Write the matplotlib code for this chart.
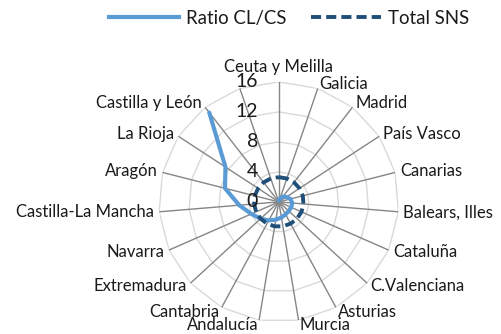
import numpy as np
import matplotlib
matplotlib.use("Agg")
import matplotlib.pyplot as plt
from matplotlib.lines import Line2D

plt.rcParams['font.family'] = ['Lato', 'DejaVu Sans']

categories = ["Ceuta y Melilla", "Galicia", "Madrid", "País Vasco", "Canarias",
              "Balears, Illes", "Cataluña", "C.Valenciana", "Asturias", "Murcia",
              "Andalucía", "Cantabria", "Extremadura", "Navarra",
              "Castilla-La Mancha", "Aragón", "La Rioja", "Castilla y León", ""]
ratio_cl_cs = [0.2, 0.5, 0.9, 1.2, 1.6, 1.8, 1.8, 1.8, 1.9, 2.1,
               2.4, 2.8, 3.3, 4.0, 5.3, 7.4, 8.5, 15.1, np.nan]
total_sns = [3.3] * len(categories)
r_ticks = [0, 4, 8, 12, 16]

light_blue = "#5B9BD5"
dark_blue = "#1F4E79"
text_color = "#1A1A1A"

fig = plt.figure(figsize=(5.01, 3.34), dpi=100)
ax = fig.add_axes([0.317, 0.036, 0.479, 0.719], projection="polar")
ax.set_theta_zero_location("N")
ax.set_theta_direction(-1)
ax.set_ylim(0, 16)
ax.grid(False)
ax.spines["polar"].set_visible(False)
ax.set_xticks([])
ax.set_yticks([])
ax.patch.set_alpha(0)

n = len(categories)
angles = np.arange(n) * 2 * np.pi / n
closed = np.append(angles, angles[0])

# polygon rings and spokes
for r in r_ticks[1:]:
    ax.plot(closed, [r] * (n + 1), color="#D9D9D9", lw=1.0, zorder=1)
for a in angles:
    ax.plot([a, a], [0, r_ticks[-1]], color="#868686", lw=1.0, zorder=1)

# series
ax.plot(angles, ratio_cl_cs, color=light_blue, lw=3.0, solid_capstyle="round",
        solid_joinstyle="round", zorder=3)
ax.plot(closed, total_sns + [total_sns[0]], color=dark_blue, lw=2.8,
        dashes=(2.6, 1.3), dash_capstyle="butt", zorder=3)

# category labels around the outside
for a, lab in zip(angles, categories):
    s = np.sin(a)
    if abs(s) < 0.05:
        ha = "center"
    elif s > 0:
        ha = "left"
    else:
        ha = "right"
    top = np.cos(a) > 0.99
    va = "bottom" if top else "center"
    rr = 16 * (1.06 if top else 1.04)
    ax.text(a, rr, lab, ha=ha, va=va, fontsize=12, color=text_color)

# radial tick labels beside the vertical axis
for v in r_ticks:
    ax.annotate(str(v), xy=(0, v), xytext=(-15, 0), textcoords="offset points",
                ha="right", va="center", fontsize=14, color=text_color)

handles = [Line2D([], [], color=light_blue, lw=3.0),
           Line2D([], [], color=dark_blue, lw=2.8, dashes=(2.6, 1.3),
                  dash_capstyle="butt")]
fig.legend(handles, ["Ratio CL/CS", "Total SNS"], loc="center",
           bbox_to_anchor=(0.577, 0.946), ncol=2, frameon=False,
           fontsize=13.4, handlelength=3.76, handletextpad=0.38,
           columnspacing=1.35, labelcolor=text_color)

fig.savefig("out.png", dpi=100)
